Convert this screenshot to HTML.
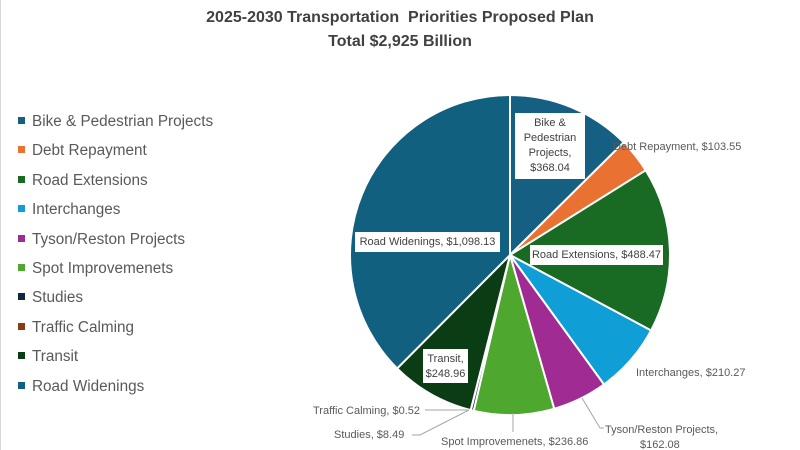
<!DOCTYPE html>
<html><head><style>
body{margin:0;background:#fff;width:800px;height:450px;overflow:hidden;font-family:"Liberation Sans",sans-serif}
.t{position:absolute;left:0;width:800px;text-align:center;font-weight:bold;font-size:16px;color:#404040}
.lg{position:absolute;left:18px;font-size:15.3px;color:#595959}
.lg i{display:inline-block;width:7px;height:7px;margin-right:7px;vertical-align:2px}
</style></head><body>
<div style="position:absolute;left:0;top:0;width:1px;height:450px;background:#d9d9d9"></div>
<div class="t" style="top:9px">2025-2030 Transportation &nbsp;Priorities Proposed Plan</div>
<div class="t" style="top:33px">Total $2,925 Billion</div>
<div id="lg"></div>
<svg id="s" width="800" height="450" style="position:absolute;left:0;top:0" font-family="Liberation Sans, sans-serif" font-size="11" fill="#595959"></svg>
<script>
var d=[["Bike & Pedestrian Projects",368.04,"#156082"],["Debt Repayment",103.55,"#e97132"],["Road Extensions",488.47,"#196b24"],["Interchanges",210.27,"#0f9ed5"],["Tyson/Reston Projects",162.08,"#a02b93"],["Spot Improvemenets",236.86,"#4ea72e"],["Studies",8.49,"#0e2841"],["Traffic Calming",0.52,"#8b3a12"],["Transit",248.96,"#0b3d14"],["Road Widenings",1098.13,"#11607f"]];
var tot=0;d.forEach(function(x){tot+=x[1]});
var cx=510,cy=255,r=160,a=0,h='';
d.forEach(function(x){var a2=a+x[1]/tot*2*Math.PI;
var x1=cx+r*Math.sin(a),y1=cy-r*Math.cos(a),x2=cx+r*Math.sin(a2),y2=cy-r*Math.cos(a2);
h+='<path d="M'+cx+','+cy+'L'+x1+','+y1+'A'+r+','+r+' 0 '+((a2-a)>Math.PI?1:0)+' 1 '+x2+','+y2+'Z" fill="'+x[2]+'" stroke="#fff" stroke-width="2"/>';a=a2;});
function box(x,y,w,hh,lines){var s='<rect x="'+x+'" y="'+y+'" width="'+w+'" height="'+hh+'" fill="#fff"/>';lines.forEach(function(l,i){s+='<text x="'+(x+w/2)+'" y="'+(y+13+i*15)+'" text-anchor="middle" fill="#404040">'+l+'</text>'});return s;}
h+=box(515,113,70,66,["Bike &amp;","Pedestrian","Projects,","$368.04"]);
h+=box(355,232,145,20,["Road Widenings, $1,098.13"]);
h+=box(530,245,133,20,["Road Extensions, $488.47"]);
h+=box(423,349,45,34,["Transit,","$248.96"]);
h+='<text x="613" y="150" fill="#595959">Debt Repayment, $103.55</text>';
h+='<text x="636" y="376">Interchanges, $210.27</text>';
h+='<text x="605" y="433">Tyson/Reston Projects,</text><text x="640" y="448">$162.08</text>';
h+='<path d="M582,398 L600,428 L604,428" stroke="#a6a6a6" fill="none"/>';
h+='<text x="313" y="414">Traffic Calming, $0.52</text><path d="M425,410 L468,410" stroke="#a6a6a6"/>';
h+='<text x="334" y="438">Studies, $8.49</text><path d="M412,435 L420,435 L469,410" stroke="#a6a6a6" fill="none"/>';
h+='<text x="441" y="445">Spot Improvemenets, $236.86</text><path d="M513,413 L513,432" stroke="#a6a6a6"/>';
document.getElementById('s').innerHTML=h;
var l='';d.forEach(function(x,i){l+='<div class="lg" style="top:'+(113+i*29.4)+'px"><i style="background:'+x[2]+'"></i>'+x[0].replace('&','&amp;')+'</div>'});
document.getElementById('lg').innerHTML=l;
</script>
</body></html>
